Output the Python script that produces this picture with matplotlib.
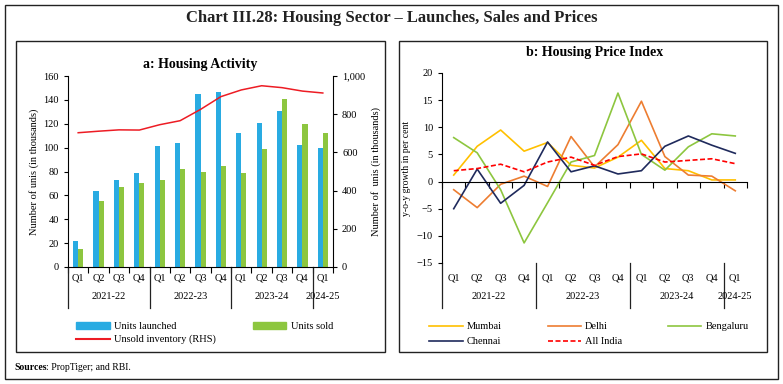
import numpy as np
import matplotlib
matplotlib.use("Agg")
import matplotlib.pyplot as plt
from matplotlib.patches import Rectangle, Patch
from matplotlib.lines import Line2D
from matplotlib.ticker import FuncFormatter

plt.rcParams['font.family'] = ['Liberation Serif', 'DejaVu Serif']

quarters = ["Q1", "Q2", "Q3", "Q4", "Q1", "Q2", "Q3", "Q4", "Q1", "Q2", "Q3", "Q4", "Q1"]
years = ["2021-22", "2022-23", "2023-24", "2024-25"]
year_sizes = [4, 4, 4, 1]

# panel a (thousand units)
launched = [22, 64, 73, 79, 101, 104, 145, 147, 112, 121, 131, 102, 100]
sold = [15, 55, 67, 70, 73, 82, 80, 85, 79, 99, 141, 120, 112]
unsold_inv = [703, 711, 718, 717, 745, 766, 825, 892, 927, 949, 939, 921, 911]

# panel b (y-o-y growth, per cent)
mumbai = [1.2, 6.5, 9.5, 5.6, 7.2, 3.0, 2.5, 4.5, 7.6, 2.4, 2.0, 0.3, 0.3]
delhi = [-1.5, -4.8, -0.5, 1.0, -0.9, 8.3, 2.7, 6.8, 14.8, 4.6, 1.2, 1.0, -1.7]
bengaluru = [8.1, 5.3, -1.5, -11.3, -3.9, 3.6, 4.8, 16.3, 5.0, 2.1, 6.4, 8.8, 8.4]
chennai = [-5.0, 2.3, -4.0, -0.7, 7.3, 1.8, 2.9, 1.4, 2.0, 6.5, 8.4, 6.7, 5.2]
all_india = [2.0, 2.4, 3.2, 1.8, 3.6, 4.5, 3.0, 4.6, 5.1, 3.6, 3.9, 4.2, 3.3]

W, H = 783, 384
fig = plt.figure(figsize=(W / 100, H / 100), dpi=100)


def rect(l, t, r, b):
    return [l / W, 1 - b / H, (r - l) / W, (b - t) / H]


def box(l, t, r, b, lw=1.0):
    fig.patches.append(Rectangle((l / W, 1 - b / H), (r - l) / W, (b - t) / H,
                                 transform=fig.transFigure, fill=False,
                                 edgecolor="#222222", linewidth=lw))


box(5, 5, 778, 379)
box(16, 41, 385, 352)
box(399, 41, 767, 352)

fig.text(0.5, 1 - 18 / H, "Chart III.28: Housing Sector \u2013 Launches, Sales and Prices",
         ha="center", va="center", fontsize=12, fontweight="bold", color="#222222")
src = fig.text(14 / W, 1 - 368 / H, "Sources", fontsize=7, fontweight="bold", va="center")
fig.add_artist(plt.Annotation(": PropTiger; and RBI.", xy=(1, 0.5), xycoords=src,
                              va="center", ha="left", fontsize=7))

x = np.arange(len(quarters))
bounds = np.concatenate([[0], np.cumsum(year_sizes)]) - 0.5


def category_axis(ax, q_y, yr_y, sep_bot):
    ax.set_xlim(-0.5, len(quarters) - 0.5)
    ax.set_xticks(np.arange(-0.5, len(quarters), 1))
    ax.set_xticklabels([])
    ax.tick_params(axis="x", length=4, direction="out", width=0.8)
    for i, q in enumerate(quarters):
        ax.text(i, q_y, q, transform=ax.get_xaxis_transform(), ha="center",
                va="center", fontsize=7.5)
    for k, yr in enumerate(years):
        ax.text((bounds[k] + bounds[k + 1]) / 2, yr_y, yr,
                transform=ax.get_xaxis_transform(), ha="center", va="center",
                fontsize=7.5)
    for b in bounds[:-1]:
        ax.plot([b, b], [0, sep_bot], transform=ax.get_xaxis_transform(),
                color="#222222", lw=0.9, clip_on=False)


# ---- panel a
ax = fig.add_axes(rect(68, 76, 333, 267))
ax.bar(x - 0.125, launched, width=0.25, color="#29ABE2", label="Units launched")
ax.bar(x + 0.125, sold, width=0.25, color="#8DC63F", label="Units sold")
ax.set_ylim(0, 160)
ax.set_yticks(range(0, 161, 20))
ax.set_ylabel("Number of unis (in thousands)", fontsize=7.5, labelpad=3)
ax.tick_params(axis="y", labelsize=7.5, length=3, width=0.8)
for s in ["top", "right"]:
    ax.spines[s].set_visible(False)
category_axis(ax, -0.058, -0.152, -0.215)
ax.set_title("a: Housing Activity", fontsize=10, fontweight="bold", pad=6)

ax2 = ax.twinx()
ax2.plot(x, unsold_inv, color="#ED1C24", lw=1.1)
ax2.set_ylim(0, 1000)
ax2.set_yticks(range(0, 1001, 200))
ax2.yaxis.set_major_formatter(FuncFormatter(lambda v, p: f"{int(v):,}"))
ax2.set_ylabel("Number of  unis (in thousands)", fontsize=7.5, labelpad=4)
ax2.tick_params(axis="y", labelsize=7.5, length=3, width=0.8)
for s in ["top", "left", "bottom"]:
    ax2.spines[s].set_visible(False)

handles = [Patch(color="#29ABE2"), Line2D([], [], color="#ED1C24", lw=1.5),
           Patch(color="#8DC63F")]
labels = ["Units launched", "Unsold inventory (RHS)", "Units sold"]
fig.legend(handles, labels, ncol=2, loc="upper left",
           bbox_to_anchor=(72 / W, 1 - 318 / H), frameon=False, fontsize=7.5,
           handlelength=3.2, handleheight=0.6, columnspacing=3.6,
           labelspacing=0.35, handletextpad=0.4, borderaxespad=0)

# ---- panel b
bx = fig.add_axes(rect(442, 73, 747, 263))
bx.plot(x, mumbai, color="#FFC000", lw=1.2, label="Mumbai")
bx.plot(x, delhi, color="#ED7D31", lw=1.2, label="Delhi")
bx.plot(x, bengaluru, color="#8DC63F", lw=1.2, label="Bengaluru")
bx.plot(x, chennai, color="#1F2A5C", lw=1.2, label="Chennai")
bx.plot(x, all_india, color="#FF0000", lw=1.2, ls=(0, (3, 1.5)), label="All India")
bx.set_ylim(-15, 20)
bx.set_yticks(range(-15, 21, 5))
bx.set_ylabel("y-o-y growth in per cent", fontsize=7, labelpad=4)
bx.tick_params(axis="y", labelsize=7.5, length=3, width=0.8)
bx.spines["bottom"].set_position(("data", 0))
for s in ["top", "right"]:
    bx.spines[s].set_visible(False)
category_axis(bx, -0.079, -0.174, -0.237)
bx.set_title("b: Housing Price Index", fontsize=10, fontweight="bold", pad=12)

h, l = bx.get_legend_handles_labels()
order = [0, 3, 1, 4, 2]
fig.legend([h[i] for i in order], [l[i] for i in order], ncol=3, loc="upper left",
           bbox_to_anchor=(425 / W, 1 - 318 / H), frameon=False, fontsize=7.5,
           handlelength=3.2, columnspacing=4.4, labelspacing=0.55,
           handletextpad=0.4, borderaxespad=0)

fig.savefig("out.png", dpi=100)
